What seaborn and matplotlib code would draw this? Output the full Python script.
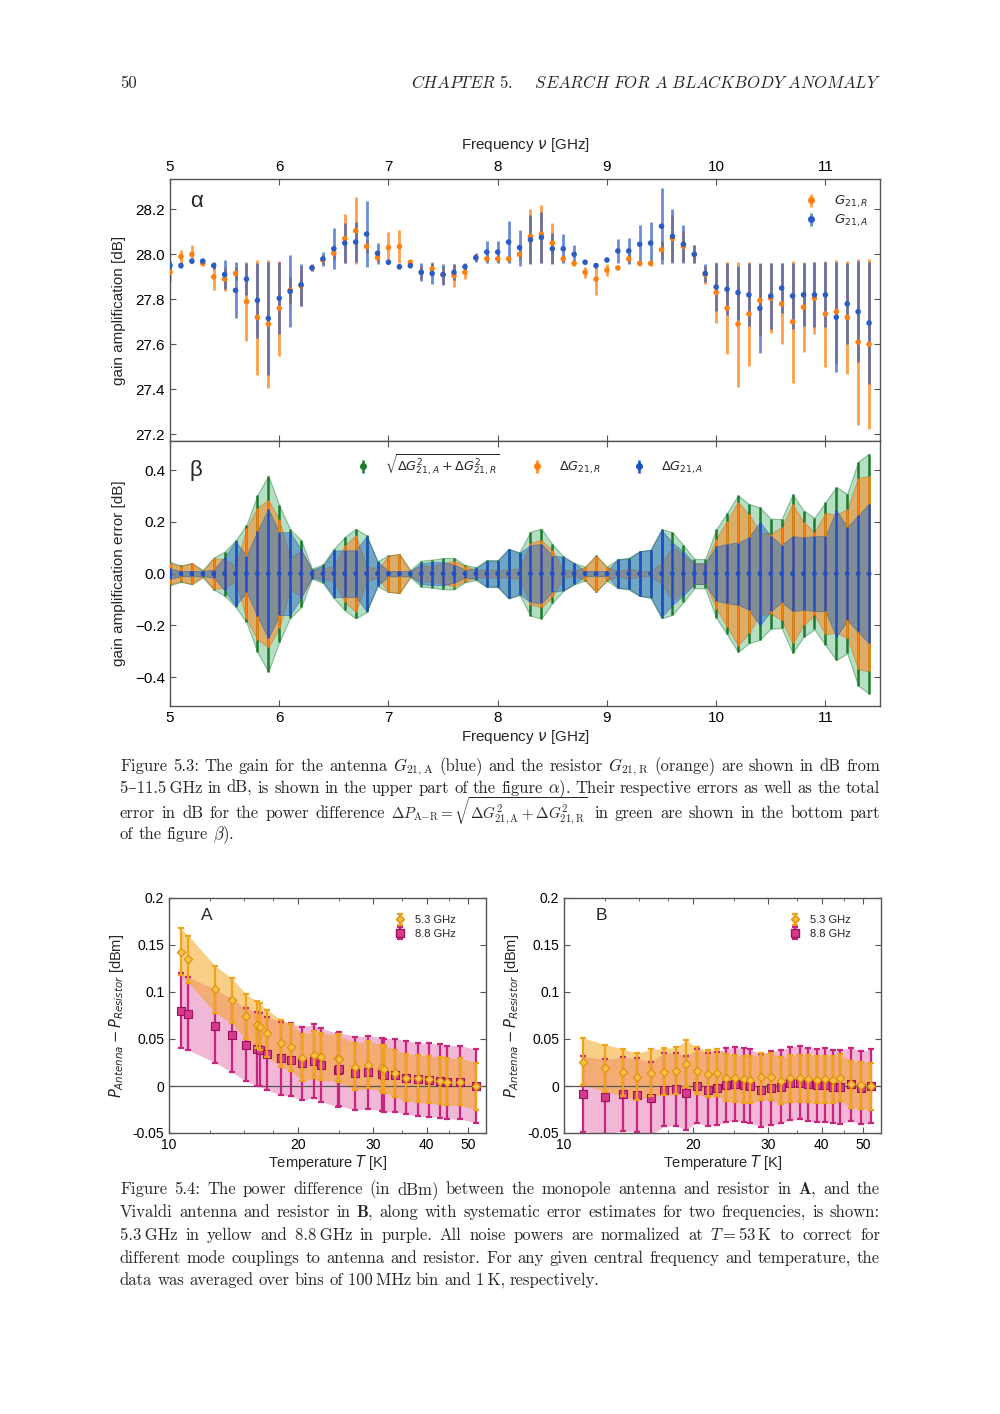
import numpy as np
import pandas as pd
import matplotlib
matplotlib.use("Agg")
import matplotlib.pyplot as plt
from matplotlib.lines import Line2D
from matplotlib.ticker import FixedLocator, NullFormatter
import seaborn as sns

# --- data: gain of antenna (A) and resistor (R), 100 MHz bins ---
freq = [5.0, 5.1, 5.2, 5.3, 5.4, 5.5, 5.6, 5.7, 5.8, 5.9,
        6.0, 6.1, 6.2, 6.3, 6.4, 6.5, 6.6, 6.7, 6.8, 6.9,
        7.0, 7.1, 7.2, 7.3, 7.4, 7.5, 7.6, 7.7, 7.8, 7.9,
        8.0, 8.1, 8.2, 8.3, 8.4, 8.5, 8.6, 8.7, 8.8, 8.9,
        9.0, 9.1, 9.2, 9.3, 9.4, 9.5, 9.6, 9.7, 9.8, 9.9,
        10.0, 10.1, 10.2, 10.3, 10.4, 10.5, 10.6, 10.7, 10.8, 10.9,
        11.0, 11.1, 11.2, 11.3, 11.4]
g_res = [27.92, 27.99, 28.00, 27.96, 27.90, 27.89, 27.915, 27.79, 27.72, 27.69,
         27.76, 27.84, 27.86, 27.94, 27.975, 28.005, 28.07, 28.105, 28.035, 27.985,
         28.03, 28.035, 27.965, 27.92, 27.935, 27.91, 27.905, 27.92, 27.985, 27.98,
         27.98, 27.98, 28.00, 28.08, 28.09, 28.05, 27.98, 27.96, 27.92, 27.89,
         27.93, 27.94, 27.98, 27.96, 27.96, 28.02, 28.07, 28.035, 28.00, 27.91,
         27.83, 27.76, 27.69, 27.735, 27.795, 27.805, 27.78, 27.70, 27.765, 27.805,
         27.735, 27.745, 27.72, 27.61, 27.60]
g_ant = [27.95, 27.95, 27.97, 27.97, 27.95, 27.91, 27.84, 27.89, 27.795, 27.715,
         27.805, 27.835, 27.865, 27.94, 27.98, 28.025, 28.05, 28.055, 28.09, 28.005,
         27.965, 27.945, 27.95, 27.92, 27.915, 27.91, 27.92, 27.945, 27.985, 28.01,
         28.01, 28.055, 28.03, 28.065, 28.075, 28.025, 28.025, 28.00, 27.965, 27.95,
         27.975, 28.015, 28.015, 28.045, 28.05, 28.125, 28.08, 28.045, 28.00, 27.915,
         27.855, 27.845, 27.83, 27.82, 27.76, 27.815, 27.85, 27.815, 27.82, 27.82,
         27.82, 27.72, 27.78, 27.745, 27.695]
dg_res = [0.04, 0.03, 0.04, 0.01, 0.06, 0.055, 0.03, 0.175, 0.255, 0.285,
          0.21, 0.06, 0.09, 0.012, 0.02, 0.03, 0.11, 0.148, 0.03, 0.015,
          0.07, 0.075, 0.01, 0.03, 0.03, 0.04, 0.05, 0.03, 0.015, 0.015,
          0.015, 0.015, 0.02, 0.12, 0.13, 0.09, 0.015, 0.01, 0.025, 0.07,
          0.025, 0.01, 0.02, 0.01, 0.01, 0.04, 0.105, 0.07, 0.04, 0.04,
          0.135, 0.205, 0.278, 0.23, 0.16, 0.155, 0.18, 0.27, 0.2, 0.16,
          0.235, 0.228, 0.25, 0.37, 0.378]
dg_ant = [0.02, 0.01, 0.01, 0.01, 0.015, 0.065, 0.125, 0.07, 0.165, 0.25,
          0.16, 0.16, 0.094, 0.015, 0.03, 0.09, 0.09, 0.09, 0.145, 0.046,
          0.01, 0.01, 0.01, 0.04, 0.045, 0.045, 0.035, 0.015, 0.02, 0.05,
          0.05, 0.095, 0.08, 0.11, 0.115, 0.07, 0.065, 0.04, 0.01, 0.01,
          0.01, 0.055, 0.058, 0.086, 0.092, 0.168, 0.12, 0.085, 0.04, 0.04,
          0.105, 0.115, 0.12, 0.14, 0.2, 0.145, 0.11, 0.145, 0.14, 0.145,
          0.145, 0.245, 0.18, 0.225, 0.27]

# --- data: power difference vs temperature, monopole (A) and Vivaldi (B) ---
temp_a = [10.65, 11.1, 12.8, 14.0, 15.1, 16.05, 16.3, 16.95, 18.25, 19.3,
          20.5, 21.8, 22.6, 24.75, 24.95, 27.25, 29.2, 31.5, 31.8, 33.8,
          35.85, 38.2, 40.45, 42.9, 44.7, 47.8, 52.0]
p53_a = [0.143, 0.135, 0.103, 0.091, 0.074, 0.065, 0.063, 0.056, 0.0455, 0.041,
         0.030, 0.033, 0.031, 0.030, 0.029, 0.0205, 0.0225, 0.019, 0.018, 0.0135,
         0.009, 0.008, 0.007, 0.0057, 0.0043, 0.0046, 0.0]
p88_a = [0.080, 0.077, 0.064, 0.054, 0.044, 0.0395, 0.0385, 0.0345, 0.0295, 0.028,
         0.024, 0.0265, 0.0225, 0.017, 0.018, 0.0135, 0.0145, 0.0125, 0.0115, 0.0115,
         0.009, 0.007, 0.0065, 0.0053, 0.004, 0.004, 0.0]
e53_a = [0.025, 0.025, 0.025, 0.024, 0.024, 0.025, 0.025, 0.025, 0.025, 0.025,
         0.025, 0.025, 0.025, 0.025, 0.025, 0.025, 0.025, 0.025, 0.025, 0.025,
         0.025, 0.025, 0.025, 0.025, 0.025, 0.025, 0.025]
e88_a = [0.040, 0.039, 0.039, 0.039, 0.039, 0.039, 0.039, 0.039, 0.039, 0.039,
         0.039, 0.039, 0.039, 0.039, 0.039, 0.039, 0.039, 0.039, 0.039, 0.039,
         0.039, 0.039, 0.039, 0.039, 0.039, 0.039, 0.039]

temp_b = [11.1, 12.5, 13.7, 14.8, 16.0, 17.1, 18.25, 19.3, 20.45, 21.7,
          22.8, 23.95, 25.05, 26.3, 27.25, 28.8, 30.5, 32.2, 33.8, 35.65,
          37.15, 39.0, 40.8, 42.5, 44.05, 46.9, 49.5, 52.05]
p53_b = [0.026, 0.019, 0.0145, 0.010, 0.014, 0.015, 0.016, 0.0235, 0.016, 0.013,
         0.014, 0.009, 0.008, 0.007, 0.0065, 0.010, 0.010, 0.0055, 0.008, 0.008,
         0.0075, 0.0065, 0.007, 0.0065, 0.009, 0.002, 0.001, 0.0]
p88_b = [-0.0085, -0.0115, -0.0085, -0.0095, -0.013, -0.004, -0.0035, -0.0075, 0.0, -0.004,
         -0.0025, 0.001, 0.002, 0.001, 0.0, -0.0045, -0.002, -0.0007, 0.003, 0.0035,
         0.0018, 0.0007, 0.001, -0.0007, -0.001, 0.0018, -0.0018, 0.0]
e53_b = [0.025] * 28
e88_b = [0.040, 0.040, 0.039, 0.039, 0.039, 0.039, 0.039, 0.039, 0.039, 0.039,
         0.039, 0.039, 0.039, 0.039, 0.039, 0.039, 0.039, 0.039, 0.039, 0.039,
         0.039, 0.039, 0.039, 0.039, 0.039, 0.039, 0.039, 0.039]

W, H = 1000, 1414
ORANGE = "#ff7f0e"
BLUE = "#2a5cc4"
GREEN = "#1b7a2e"
YELLOW = "#f0a318"
MAGENTA = "#c8257c"

sns.set_style("ticks")
plt.rcParams["font.family"] = ["Liberation Sans", "DejaVu Sans"]
plt.rcParams.update({
    "xtick.direction": "in", "ytick.direction": "in",
    "xtick.top": True, "ytick.right": True,
    "axes.edgecolor": "#555555", "axes.linewidth": 1.0,
    "xtick.color": "#555555", "ytick.color": "#555555",
    "xtick.labelcolor": "black", "ytick.labelcolor": "black",
    "xtick.major.size": 4, "ytick.major.size": 4,
})

fig = plt.figure(figsize=(W / 100, H / 100), dpi=100)


def px_axes(x0, y0, x1, y1):
    return fig.add_axes([x0 / W, 1 - y1 / H, (x1 - x0) / W, (y1 - y0) / H])


gain = pd.DataFrame({"freq": freq, "G_R": g_res, "G_A": g_ant,
                     "dG_R": dg_res, "dG_A": dg_ant})
gain["total"] = np.sqrt(gain.dG_R ** 2 + gain.dG_A ** 2)
gain["zero"] = 0.0

# --- panel alpha: gains ---
ax1 = px_axes(170, 179, 880, 441)
eb_r = ax1.errorbar(gain.freq, gain.G_R, yerr=gain.dG_R, fmt="none",
                    ecolor=ORANGE, elinewidth=2.0, alpha=0.75, zorder=2)
eb_a = ax1.errorbar(gain.freq, gain.G_A, yerr=gain.dG_A, fmt="none",
                    ecolor=BLUE, elinewidth=2.0, alpha=0.7, zorder=3)
sns.scatterplot(data=gain, x="freq", y="G_R", color=ORANGE, s=16,
                edgecolor="none", ax=ax1, zorder=4)
sns.scatterplot(data=gain, x="freq", y="G_A", color=BLUE, s=16,
                edgecolor="none", ax=ax1, zorder=5)
ax1.set_xlim(5, 11.5)
ax1.set_ylim(27.17, 28.335)
ax1.set_xticks(range(5, 12))
ax1.set_yticks([27.2, 27.4, 27.6, 27.8, 28.0, 28.2])
ax1.tick_params(axis="x", labeltop=True, labelbottom=False, labelsize=11)
ax1.tick_params(axis="y", labelsize=11)
ax1.xaxis.set_label_position("top")
ax1.set_xlabel(r"Frequency $\nu$ [GHz]", fontsize=11, labelpad=8)
ax1.set_ylabel("gain amplification [dB]", fontsize=11)
ax1.yaxis.set_label_coords(-0.062, 0.5)
ax1.text(0.028, 0.915, "α", transform=ax1.transAxes, fontsize=16, va="center")
mk = dict(marker="o", ls="", ms=4)
ax1.legend([(eb_r, Line2D([], [], color=ORANGE, **mk)),
            (eb_a, Line2D([], [], color=BLUE, **mk))],
           [r"$G_{21,R}$", r"$G_{21,A}$"], loc="upper right",
           bbox_to_anchor=(1.0, 0.99), frameon=False, fontsize=9.5,
           handlelength=1.0, handletextpad=1.2, labelspacing=0.2)

# --- panel beta: errors ---
ax2 = px_axes(170, 441, 880, 706)
ax2.fill_between(gain.freq, -gain.total, gain.total, facecolor="#5cb87a",
                 alpha=0.45, edgecolor=GREEN, lw=0.8)
ax2.fill_between(gain.freq, -gain.dG_R, gain.dG_R, facecolor=ORANGE,
                 alpha=0.5, edgecolor="#c86010", lw=0.6)
ax2.fill_between(gain.freq, -gain.dG_A, gain.dG_A, facecolor="#2d6fc0",
                 alpha=0.5, edgecolor="#2050a0", lw=0.6)
eb_t = ax2.errorbar(gain.freq, gain.zero, yerr=gain.total, fmt="none",
                    ecolor=GREEN, elinewidth=1.8, zorder=3)
eb_r2 = ax2.errorbar(gain.freq, gain.zero, yerr=gain.dG_R, fmt="none",
                     ecolor=ORANGE, elinewidth=1.8, zorder=4)
eb_a2 = ax2.errorbar(gain.freq, gain.zero, yerr=gain.dG_A, fmt="none",
                     ecolor="#1f4fc8", elinewidth=1.8, zorder=5)
sns.scatterplot(data=gain, x="freq", y="zero", color="#1f4fc8", s=12,
                edgecolor="none", ax=ax2, zorder=6)
ax2.set_xlim(5, 11.5)
ax2.set_ylim(-0.512, 0.513)
ax2.set_xticks(range(5, 12))
ax2.set_yticks([-0.4, -0.2, 0.0, 0.2, 0.4])
ax2.tick_params(labelsize=11)
ax2.set_xlabel(r"Frequency $\nu$ [GHz]", fontsize=11, labelpad=2)
ax2.set_ylabel("gain amplification error [dB]", fontsize=11)
ax2.yaxis.set_label_coords(-0.062, 0.5)
ax2.text(0.028, 0.89, "β", transform=ax2.transAxes, fontsize=16, va="center")
ax2.legend([(eb_t, Line2D([], [], color=GREEN, **mk)),
            (eb_r2, Line2D([], [], color=ORANGE, **mk)),
            (eb_a2, Line2D([], [], color="#1f4fc8", **mk))],
           [r"$\sqrt{\Delta G_{21,A}^2+\Delta G_{21,R}^2}$",
            r"$\Delta G_{21,R}$", r"$\Delta G_{21,A}$"],
           loc="upper center", bbox_to_anchor=(0.507, 1.0), ncol=3,
           frameon=False, fontsize=9.3, handlelength=1.0, handletextpad=1.2,
           columnspacing=2.4)


# --- bottom panels ---
def temp_panel(ax, T, p53, e53, p88, e88, tag):
    df = pd.DataFrame({"T": T, "p53": p53, "e53": e53, "p88": p88, "e88": e88})
    ax.fill_between(df["T"], df.p88 - df.e88, df.p88 + df.e88,
                    facecolor="#e060a8", alpha=0.45, lw=0)
    ax.fill_between(df["T"], df.p53 - df.e53, df.p53 + df.e53,
                    facecolor="#f5a623", alpha=0.55, lw=0)
    ax.axhline(0, color="#555555", lw=0.9, zorder=1.5)
    eb88 = ax.errorbar(df["T"], df.p88, yerr=df.e88, fmt="none", ecolor=MAGENTA,
                       elinewidth=1.6, capsize=2.5, capthick=1.6, zorder=2)
    sns.scatterplot(data=df, x="T", y="p88", marker="s", s=34, color="#d43a8e",
                    edgecolor="#a0105a", linewidth=0.8, ax=ax, zorder=3)
    eb53 = ax.errorbar(df["T"], df.p53, yerr=df.e53, fmt="none", ecolor=YELLOW,
                       elinewidth=1.6, capsize=2.5, capthick=1.6, zorder=4)
    sns.scatterplot(data=df, x="T", y="p53", marker="D", s=18, color="#f6c04b",
                    edgecolor="#e09000", linewidth=0.8, ax=ax, zorder=5)
    ax.set_xscale("log")
    ax.set_xlim(10, 55)
    ax.set_ylim(-0.05, 0.2)
    ax.xaxis.set_major_locator(FixedLocator([10, 20, 30, 40, 50]))
    ax.xaxis.set_minor_locator(FixedLocator([12.5, 15, 17.5, 25, 35, 45]))
    ax.xaxis.set_minor_formatter(NullFormatter())
    ax.set_xticklabels(["10", "20", "30", "40", "50"])
    ax.set_yticks([-0.05, 0, 0.05, 0.1, 0.15, 0.2])
    ax.set_yticklabels(["-0.05", "0", "0.05", "0.1", "0.15", "0.2"])
    ax.tick_params(which="both", top=True, right=True, labelsize=10)
    ax.tick_params(which="minor", length=2)
    ax.set_xlabel(r"Temperature $T$ [K]", fontsize=10.5, labelpad=1)
    ax.set_ylabel(r"$P_{Antenna}-P_{Resistor}$ [dBm]", fontsize=10.5)
    ax.yaxis.set_label_coords(-0.135, 0.5)
    ax.text(0.1, 0.925, tag, transform=ax.transAxes, fontsize=12.5, va="center")
    mk53 = Line2D([], [], marker="D", ls="", ms=4.5, color="#f6c04b", mec="#e09000")
    mk88 = Line2D([], [], marker="s", ls="", ms=6, color="#d43a8e", mec="#a0105a")
    ax.legend([(eb53, mk53), (eb88, mk88)], ["5.3 GHz", "8.8 GHz"],
              loc="upper right", bbox_to_anchor=(0.935, 0.97), frameon=False,
              fontsize=8, handlelength=1.0, handletextpad=0.8, labelspacing=0.35)


axA = px_axes(169, 898, 486, 1133)
temp_panel(axA, temp_a, p53_a, e53_a, p88_a, e88_a, "A")
axB = px_axes(564, 898, 881, 1133)
temp_panel(axB, temp_b, p53_b, e53_b, p88_b, e88_b, "B")

# --- page text ---
renderer = fig.canvas.get_renderer()
CAP_SIZE = 12
cap = dict(family=["cmr10", "DejaVu Serif"], fontsize=CAP_SIZE, math_fontfamily="cm")


def put_line(text, y, justify=True, x0=120, x1=880, **kw):
    words = text.split(" ")
    arts = [fig.text(x0 / W, 1 - y / H, w, va="baseline", ha="left", **kw)
            for w in words]
    for a, w in zip(arts, words):
        if r"\sqrt" in w:      # keep the radical from touching the line above
            a.set_fontsize(CAP_SIZE - 1.2)
    widths = [a.get_window_extent(renderer).width for a in arts]
    space = CAP_SIZE * 100 / 72 * 0.3
    gap = (x1 - x0 - sum(widths)) / (len(arts) - 1) if justify else space
    x = x0
    for a, wd in zip(arts, widths):
        a.set_x(x / W)
        x += wd + gap


fig.text(120 / W, 1 - 88 / H, "50", va="baseline", **cap)
fig.text(881 / W, 1 - 88 / H,
         r"$\mathit{CHAPTER\ 5.\quad\ SEARCH\ FOR\ A\ BLACKBODY\ ANOMALY}$",
         ha="right", va="baseline", fontsize=12, math_fontfamily="cm")

put_line(r"Figure 5.3: The gain for the antenna $G_{21,\mathrm{A}}$ (blue) and the "
         r"resistor $G_{21,\mathrm{R}}$ (orange) are shown in dB from", 771, **cap)
put_line("5\u201311.5\u2009GHz in dB, is shown in the upper part of the figure "
         r"$\alpha$). Their respective errors as well as the total", 793, **cap)
put_line(r"error in dB for the power difference "
         r"$\Delta{}P_{\mathrm{A{-}R}}=\sqrt{\Delta{}G^2_{21,\mathrm{A}}+\Delta{}G^2_{21,\mathrm{R}}}$"
         r" in green are shown in the bottom part", 818, **cap)
put_line(r"of the figure $\beta$).", 839, justify=False, **cap)

put_line(r"Figure 5.4: The power difference (in dBm) between the monopole antenna "
         r"and resistor in $\mathbf{A}$, and the", 1194, **cap)
put_line(r"Vivaldi antenna and resistor in $\mathbf{B}$, along with systematic error "
         r"estimates for two frequencies, is shown:", 1217, **cap)
put_line("5.3\u2009GHz in yellow and 8.8\u2009GHz in purple. All noise powers are "
         r"normalized at $T=53\,\mathrm{K}$ to correct for", 1240, **cap)
put_line("different mode couplings to antenna and resistor. For any given central "
         "frequency and temperature, the", 1263, **cap)
put_line("data was averaged over bins of 100\u2009MHz bin and 1\u2009K, respectively.",
         1285, justify=False, **cap)

fig.savefig("out.png", dpi=100)
